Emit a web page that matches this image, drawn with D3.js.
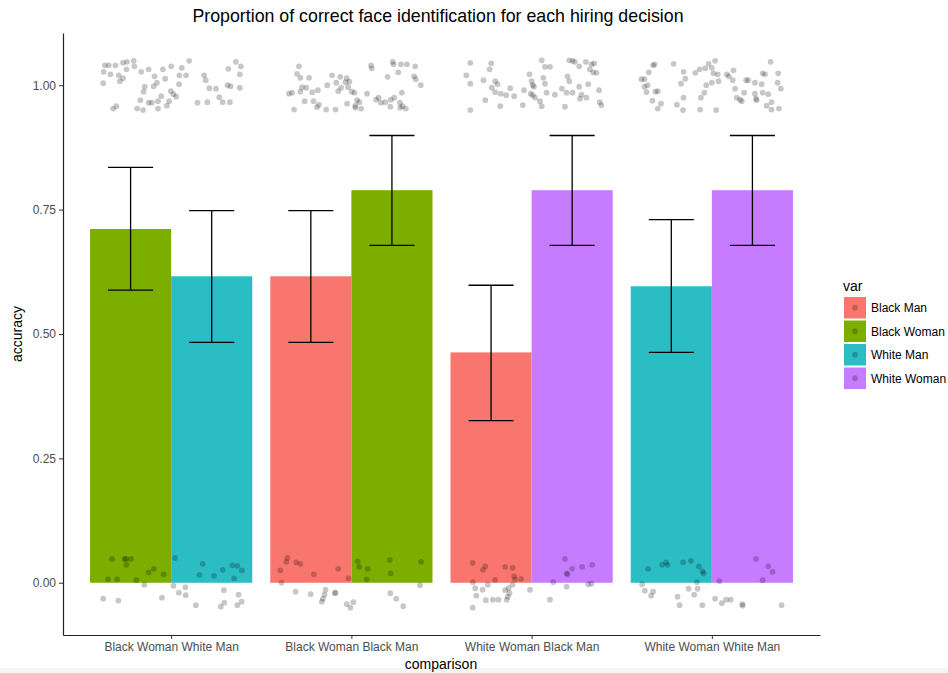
<!DOCTYPE html>
<html lang="en">
	<head>
		<meta charset="utf-8">
		<title>Proportion of correct face identification</title>
		<script type="text/javascript" src="https://cdn.jsdelivr.net/npm/d3@7"></script>
		<style type="text/css">
			body { margin: 0; background: #fff; }
			text { font-family: "Liberation Sans", Arial, Helvetica, sans-serif; }
		</style>
	</head>
	<body>
		<script type="text/javascript">

			var w = 948;
			var h = 673;

			//Data
			var comparisons = ["Black Woman White Man", "Black Woman Black Man", "White Woman Black Man", "White Woman White Man"];
			var varNames = ["Black Man", "Black Woman", "White Man", "White Woman"];
			var varColors = ["#F8766D", "#7CAE00", "#2BBDC4", "#C77CFF"];

			var leftVar = ["Black Woman", "Black Man", "Black Man", "White Man"];
			var rightVar = ["White Man", "Black Woman", "White Woman", "White Woman"];
			var leftAcc = [0.711, 0.616, 0.463, 0.596];
			var rightAcc = [0.616, 0.789, 0.789, 0.789];
			var leftLo = [0.588, 0.483, 0.326, 0.463];
			var leftHi = [0.835, 0.748, 0.598, 0.730];
			var rightLo = [0.483, 0.678, 0.678, 0.678];
			var rightHi = [0.748, 0.899, 0.899, 0.899];

			var yTicks = [0, 0.25, 0.5, 0.75, 1];

			// jittered raw points: [offset from group centre (category units), accuracy]
			var ptsBWWM = [
				[-0.368,1.040],[-0.346,1.040],[-0.309,1.040],[-0.267,1.045],[-0.245,1.047],[-0.208,1.049],[-0.374,1.027],[-0.337,1.022],
				[-0.291,1.020],[-0.248,1.032],[-0.204,1.038],[-0.166,1.027],[-0.125,1.032],[-0.377,1.004],[-0.285,1.008],[-0.267,1.014],
				[-0.092,1.018],[-0.046,1.032],[0.000,1.038],[0.059,1.035],[0.100,1.049],[0.046,1.020],[0.083,1.020],[-0.033,1.013],
				[-0.079,1.005],[-0.097,0.998],[-0.147,0.997],[-0.153,0.987],[-0.055,0.978],[-0.002,0.988],[0.013,0.982],[0.028,0.977],
				[-0.024,0.959],[-0.011,0.968],[-0.125,0.965],[-0.171,0.970],[-0.107,0.965],[-0.073,0.968],[-0.156,0.950],[-0.189,0.953],
				[-0.073,0.953],[-0.322,0.953],[-0.304,0.958],[0.044,1.002],[0.183,1.020],[0.192,1.010],[0.212,0.994],[0.249,0.993],
				[0.267,0.976],[0.286,0.966],[0.326,0.966],[0.201,0.966],[0.146,0.965],[0.313,1.000],[0.330,0.998],[0.381,0.995],
				[0.359,1.047],[0.387,1.038],[0.381,1.022],[0.317,1.033],
				[-0.328,0.048],[-0.258,0.048],[-0.250,0.048],[-0.223,0.048],[-0.248,0.036],[-0.350,0.007],[-0.300,0.007],[-0.193,0.005],
				[-0.125,0.021],[-0.097,0.028],[-0.042,0.017],[0.022,0.050],[0.175,0.038],[0.157,0.016],[0.238,0.014],[0.286,0.026],
				[0.339,0.035],[0.367,0.034],[0.393,0.025],[0.350,0.009],[-0.149,-0.004],[-0.377,-0.032],[-0.293,-0.036],[-0.051,-0.030],
				[0.013,-0.006],[0.043,-0.020],[0.079,-0.009],[0.081,-0.025],[0.137,-0.045],[0.293,-0.015],[0.374,-0.024],[0.391,-0.038],
				[0.367,-0.045],[0.295,-0.040],[0.275,-0.048]
			];
			var ptsBWBM = [
				[-0.291,1.038],[-0.302,1.023],[-0.283,1.015],[-0.235,1.015],[-0.346,0.983],[-0.329,0.985],[-0.283,0.987],[-0.250,0.995],
				[-0.274,0.996],[-0.259,0.968],[-0.217,0.986],[-0.186,0.990],[-0.210,0.968],[-0.180,0.961],[-0.318,0.951],[-0.191,0.956],
				[-0.140,0.951],[-0.088,0.951],[-0.134,1.000],[-0.107,1.020],[-0.062,1.017],[-0.084,1.005],[-0.026,1.014],[-0.033,1.006],
				[-0.018,0.996],[-0.073,0.988],[-0.057,0.995],[-0.011,1.007],[0.002,0.987],[0.017,0.985],[-0.024,0.963],[0.022,0.959],
				[0.032,0.970],[0.044,0.966],[0.054,0.953],[0.022,0.955],[0.087,0.983],[0.137,0.971],[0.151,0.975],[0.164,0.965],
				[0.188,0.966],[0.216,0.957],[0.219,0.971],[0.238,0.975],[0.280,0.985],[0.269,0.965],[0.284,0.958],[0.302,0.953],
				[0.271,0.955],[0.109,1.040],[0.113,1.034],[0.201,1.017],[0.229,1.047],[0.234,1.042],[0.275,1.042],[0.308,1.042],
				[0.260,1.026],[0.354,1.038],[0.348,1.018],[0.357,1.012],[0.385,1.000],
				[-0.355,0.050],[-0.361,0.042],[-0.306,0.041],[-0.283,0.038],[-0.394,0.025],[-0.208,0.017],[-0.073,0.028],[-0.016,0.009],
				[-0.388,0.000],[-0.309,-0.018],[-0.226,-0.023],[-0.143,-0.014],[-0.149,-0.024],[-0.158,-0.032],[-0.164,-0.038],[-0.088,-0.020],
				[-0.092,-0.021],[-0.026,-0.043],[-0.005,-0.050],[0.011,-0.039],[0.035,0.043],[0.044,0.032],[0.090,0.028],[0.085,0.007],
				[0.214,0.046],[0.218,0.019],[0.387,0.042],[0.216,-0.021],[0.249,-0.032],[0.288,-0.047],[0.381,-0.005]
			];
			var ptsWWBM = [
				[-0.340,1.045],[-0.362,1.020],[-0.340,1.003],[-0.340,0.950],[-0.224,1.044],[-0.233,1.032],[-0.267,1.010],[-0.257,0.970],
				[-0.202,1.008],[-0.189,1.002],[-0.221,0.995],[-0.202,0.986],[-0.171,0.983],[-0.141,0.980],[-0.119,0.994],[-0.097,0.978],
				[-0.174,0.958],[-0.049,0.960],[-0.042,0.990],[-0.012,1.022],[0.000,1.008],[0.006,1.000],[0.013,0.997],[-0.005,0.983],
				[0.006,0.980],[0.019,0.975],[0.046,0.968],[0.056,0.958],[0.056,1.050],[0.074,1.037],[0.102,1.037],[0.065,1.015],
				[0.074,1.003],[0.083,0.985],[0.129,0.981],[0.168,0.993],[0.199,1.018],[0.209,1.008],[0.194,0.985],[0.227,0.985],
				[0.185,0.957],[0.209,1.050],[0.227,1.049],[0.240,1.047],[0.264,1.038],[0.301,1.047],[0.332,1.042],[0.347,1.044],
				[0.323,1.032],[0.341,1.026],[0.360,1.025],[0.264,0.997],[0.314,1.002],[0.374,0.990],[0.277,0.981],[0.268,0.973],
				[0.304,0.975],[0.378,0.966],[0.387,0.960],
				[-0.327,0.040],[-0.270,0.026],[-0.257,0.033],[-0.147,0.032],[-0.105,0.030],[-0.202,0.006],[-0.097,0.013],[-0.092,0.007],
				[-0.058,0.008],[-0.326,0.001],[-0.313,-0.011],[-0.272,-0.014],[-0.243,-0.004],[-0.307,-0.026],[-0.254,-0.035],[-0.215,-0.034],
				[-0.184,-0.034],[-0.327,-0.050],[-0.147,-0.015],[-0.128,-0.011],[-0.123,-0.021],[-0.132,-0.028],[-0.138,-0.034],[-0.106,-0.004],
				[-0.009,-0.014],[0.102,-0.034],[0.120,0.001],[0.185,0.048],[0.225,0.028],[0.194,0.019],[0.199,0.017],[0.280,0.032],
				[0.336,0.036],[0.194,-0.008],[0.314,-0.003],[0.332,-0.002]
			];
			var ptsWWWM = [
				[-0.317,1.042],[-0.326,1.040],[-0.350,1.026],[-0.391,1.012],[-0.374,1.012],[-0.356,1.000],[-0.374,0.997],[-0.363,0.986],
				[-0.300,0.988],[-0.313,0.987],[-0.330,0.969],[-0.282,0.963],[-0.300,0.953],[-0.212,1.043],[-0.157,1.027],[-0.147,1.013],
				[-0.171,1.003],[-0.157,0.975],[-0.194,0.961],[-0.160,0.950],[-0.092,1.025],[-0.068,1.032],[-0.037,1.034],[-0.018,1.043],
				[0.018,1.049],[0.000,1.035],[0.009,1.024],[0.033,1.022],[0.037,1.008],[0.000,1.005],[-0.031,1.000],[-0.042,0.985],
				[-0.061,0.975],[-0.065,0.951],[0.024,0.950],[0.083,1.022],[0.094,1.018],[0.116,1.010],[0.120,1.030],[0.129,0.993],
				[0.138,0.975],[0.157,0.971],[0.166,0.968],[0.179,0.985],[0.190,1.010],[0.202,1.010],[0.239,1.005],[0.276,1.002],
				[0.282,1.024],[0.295,1.022],[0.239,0.983],[0.245,0.973],[0.248,0.970],[0.282,0.985],[0.313,0.982],[0.326,1.047],
				[0.368,1.024],[0.365,1.005],[0.383,0.993],[0.331,0.966],[0.304,0.959],[0.331,0.951],[0.372,0.953],
				[-0.354,0.028],[-0.276,0.036],[-0.254,0.041],[-0.245,0.036],[-0.160,0.041],[-0.116,0.044],[-0.072,0.033],[-0.052,0.023],
				[-0.046,0.019],[-0.083,0.001],[-0.387,-0.003],[-0.372,-0.016],[-0.326,-0.018],[-0.337,-0.026],[-0.190,-0.028],[-0.179,-0.045],
				[-0.129,-0.012],[-0.079,-0.012],[-0.098,-0.024],[-0.053,-0.045],[0.042,0.003],[0.245,0.048],[0.313,0.033],[0.337,0.022],
				[0.282,0.005],[0.018,-0.032],[0.055,-0.041],[0.079,-0.034],[0.105,-0.034],[0.169,-0.043],[0.171,-0.046],[0.387,-0.045]
			];
			var groupPoints = [ptsBWWM, ptsBWBM, ptsWWBM, ptsWWWM];

			//Build a flat table for the marks
			var bars = [];
			comparisons.forEach(function(c, i) {
				bars.push({comp: c, side: -1, v: leftVar[i], acc: leftAcc[i], lo: leftLo[i], hi: leftHi[i]});
				bars.push({comp: c, side: 1, v: rightVar[i], acc: rightAcc[i], lo: rightLo[i], hi: rightHi[i]});
			});
			var points = [];
			groupPoints.forEach(function(arr, i) {
				arr.forEach(function(p) {
					points.push({comp: comparisons[i], dx: p[0], acc: p[1]});
				});
			});

			var svg = d3.select("body")
						.append("svg")
						.attr("width", w)
						.attr("height", h);

			// light strip along the bottom edge of the screenshot
			svg.append("rect")
			   .attr("x", 0)
			   .attr("y", 668)
			   .attr("width", w)
			   .attr("height", h - 668)
			   .attr("fill", "#f5f5f5");

			var xScale = d3.scalePoint()
						   .domain(comparisons)
						   .range([63, 820])
						   .padding(0.6);
			var step = xScale.step();

			var yScale = d3.scaleLinear()
						   .domain([-0.105, 1.105])
						   .range([635, 33]);

			var cScale = d3.scaleOrdinal()
						   .domain(varNames)
						   .range(varColors);

			//Bars (dodged, width 0.9)
			svg.selectAll("rect.bar")
			   .data(bars)
			   .enter()
			   .append("rect")
			   .attr("class", "bar")
			   .attr("x", function(d) {
			   		return d.side < 0 ? xScale(d.comp) - 0.45 * step : xScale(d.comp);
			   })
			   .attr("width", 0.45 * step)
			   .attr("y", function(d) { return yScale(d.acc); })
			   .attr("height", function(d) { return yScale(0) - yScale(d.acc); })
			   .attr("fill", function(d) { return cScale(d.v); });

			//Jittered points
			svg.selectAll("circle.pt")
			   .data(points)
			   .enter()
			   .append("circle")
			   .attr("class", "pt")
			   .attr("cx", function(d) { return xScale(d.comp) + d.dx * step; })
			   .attr("cy", function(d) { return yScale(d.acc); })
			   .attr("r", 2.9)
			   .attr("fill", "#000")
			   .attr("opacity", 0.22);

			//Error bars
			var eb = svg.selectAll("g.eb")
						.data(bars)
						.enter()
						.append("g")
						.attr("class", "eb")
						.attr("stroke", "#000")
						.attr("stroke-width", 1.3);
			function ebX(d) { return xScale(d.comp) + d.side * 0.225 * step; }
			eb.append("line")
			  .attr("x1", ebX).attr("x2", ebX)
			  .attr("y1", function(d) { return yScale(d.lo); })
			  .attr("y2", function(d) { return yScale(d.hi); });
			eb.append("line")
			  .attr("x1", function(d) { return ebX(d) - 0.125 * step; })
			  .attr("x2", function(d) { return ebX(d) + 0.125 * step; })
			  .attr("y1", function(d) { return yScale(d.hi); })
			  .attr("y2", function(d) { return yScale(d.hi); });
			eb.append("line")
			  .attr("x1", function(d) { return ebX(d) - 0.125 * step; })
			  .attr("x2", function(d) { return ebX(d) + 0.125 * step; })
			  .attr("y1", function(d) { return yScale(d.lo); })
			  .attr("y2", function(d) { return yScale(d.lo); });

			//Create X axis
			var xAxis = d3.axisBottom(xScale).tickSize(4).tickPadding(3).tickSizeOuter(0);
			var gx = svg.append("g")
						.attr("transform", "translate(0,635)")
						.call(xAxis);

			//Create Y axis
			var yAxis = d3.axisLeft(yScale)
						  .tickValues(yTicks)
						  .tickFormat(d3.format(".2f"))
						  .tickSize(4)
						  .tickPadding(3)
						  .tickSizeOuter(0);
			var gy = svg.append("g")
						.attr("transform", "translate(63,0)")
						.call(yAxis);

			[gx, gy].forEach(function(g) {
				g.select(".domain").attr("stroke", "#222").attr("stroke-width", 1.2);
				g.selectAll(".tick line").attr("stroke", "#333");
				g.selectAll(".tick text")
				 .attr("fill", "#4d4d4d")
				 .style("font-size", "12px")
				 .style("font-family", "'Liberation Sans', Arial, sans-serif");
			});

			//Titles
			svg.append("text")
			   .attr("x", 438)
			   .attr("y", 22)
			   .attr("text-anchor", "middle")
			   .style("font-size", "17.8px")
			   .attr("fill", "#000")
			   .text("Proportion of correct face identification for each hiring decision");

			svg.append("text")
			   .attr("x", 441)
			   .attr("y", 669)
			   .attr("text-anchor", "middle")
			   .style("font-size", "14px")
			   .text("comparison");

			svg.append("text")
			   .attr("transform", "translate(22,334) rotate(-90)")
			   .attr("text-anchor", "middle")
			   .style("font-size", "14px")
			   .text("accuracy");

			//Legend
			var legend = svg.append("g").attr("transform", "translate(843,0)");
			legend.append("text")
				  .attr("x", 0)
				  .attr("y", 291)
				  .style("font-size", "14px")
				  .text("var");
			var keys = legend.selectAll("g.key")
							 .data(varNames)
							 .enter()
							 .append("g")
							 .attr("class", "key")
							 .attr("transform", function(d, i) { return "translate(0," + (297 + i * 23.5) + ")"; });
			keys.append("rect")
				.attr("x", 1)
				.attr("y", 0)
				.attr("width", 22)
				.attr("height", 21.5)
				.attr("fill", function(d) { return cScale(d); });
			keys.append("circle")
				.attr("cx", 12)
				.attr("cy", 10.75)
				.attr("r", 2.9)
				.attr("fill", "#000")
				.attr("opacity", 0.22);
			keys.append("text")
				.attr("x", 28)
				.attr("y", 15)
				.style("font-size", "12px")
				.text(function(d) { return d; });

		</script>
	</body>
</html>
